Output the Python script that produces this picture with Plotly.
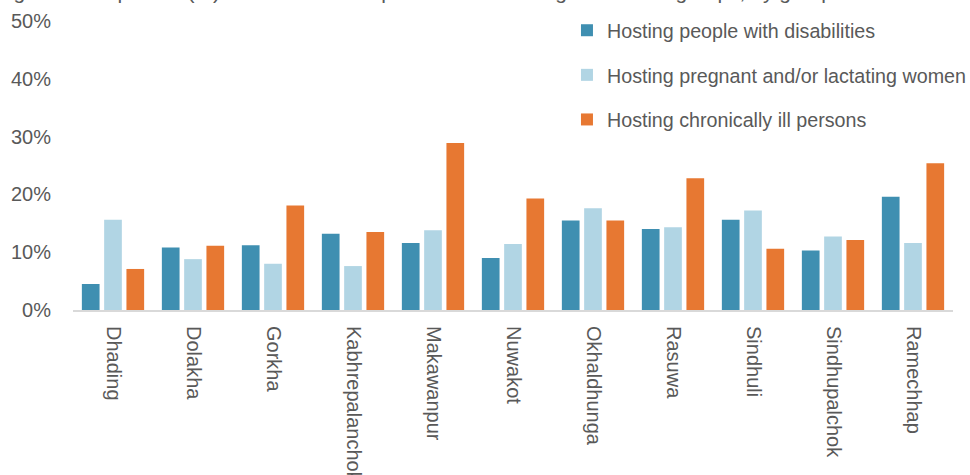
import plotly.graph_objects as go

# ---------------------------------------------------------------------------
# Data (% of households)
# ---------------------------------------------------------------------------
DISTRICTS = [
    "Dhading", "Dolakha", "Gorkha", "Kabhrepalanchok", "Makawanpur", "Nuwakot",
    "Okhaldhunga", "Rasuwa", "Sindhuli", "Sindhupalchok", "Ramechhap",
]
DISABILITIES = [4.5, 10.8, 11.2, 13.2, 11.6, 9.0, 15.5, 14.0, 15.6, 10.3, 19.6]
PREGNANT     = [15.6, 8.8, 8.0, 7.6, 13.8, 11.4, 17.6, 14.3, 17.2, 12.7, 11.6]
CHRONIC      = [7.1, 11.1, 18.1, 13.5, 28.9, 19.3, 15.5, 22.8, 10.6, 12.1, 25.4]

SERIES = [
    ("Hosting people with disabilities", DISABILITIES, "#3f8fb1"),
    ("Hosting pregnant and/or lactating women", PREGNANT, "#b1d5e4"),
    ("Hosting chronically ill persons", CHRONIC, "#e77832"),
]

TITLE = ("Figure 6: Proportion (%) of households reported to be hosting "
         "vulnerable groups, by group and district")

FONT = "Liberation Sans, Arial, sans-serif"
GREY = "#595959"

fig = go.Figure()
for i, (name, vals, color) in enumerate(SERIES):
    fig.add_trace(go.Bar(
        x=DISTRICTS, y=[v / 100 for v in vals], name=name,
        marker=dict(color=color, line=dict(width=0)),
        legendgroup=f"g{i}",
    ))

fig.update_layout(
    width=970, height=475,
    margin=dict(l=73, r=17, t=21, b=165, autoexpand=False),
    plot_bgcolor="white", paper_bgcolor="white",
    font=dict(family=FONT, size=20, color=GREY),
    barmode="group", bargap=0.164, bargroupgap=0.206,
    showlegend=True,
    legend=dict(
        xref="container", yref="container",
        x=0.5845, y=0.977, xanchor="left", yanchor="top",
        bgcolor="rgba(0,0,0,0)", font=dict(size=19.7, color=GREY),
        tracegroupgap=16, itemclick=False,
    ),
    xaxis=dict(
        tickangle=90, showgrid=False, showline=True,
        linecolor="#d9d9d9", linewidth=2, ticks="",
        ticklabelstandoff=10, automargin=False,
    ),
    yaxis=dict(
        range=[0, 0.5], dtick=0.1, tickformat=".0%",
        showgrid=False, zeroline=False, showline=False,
        ticklabelstandoff=21, automargin=False,
    ),
)

# title sits mostly outside the visible page, as in the original crop
fig.add_annotation(
    text=TITLE, xref="paper", yref="paper",
    x=-0.0895, y=1.054, xanchor="left", yanchor="bottom",
    showarrow=False, font=dict(size=21, color=GREY),
)

# drop the default page margin so the figure sits at the window's corner
fig.write_html(
    "out.html",
    config={"displayModeBar": False},
    post_script="document.body.style.margin='0';",
)
